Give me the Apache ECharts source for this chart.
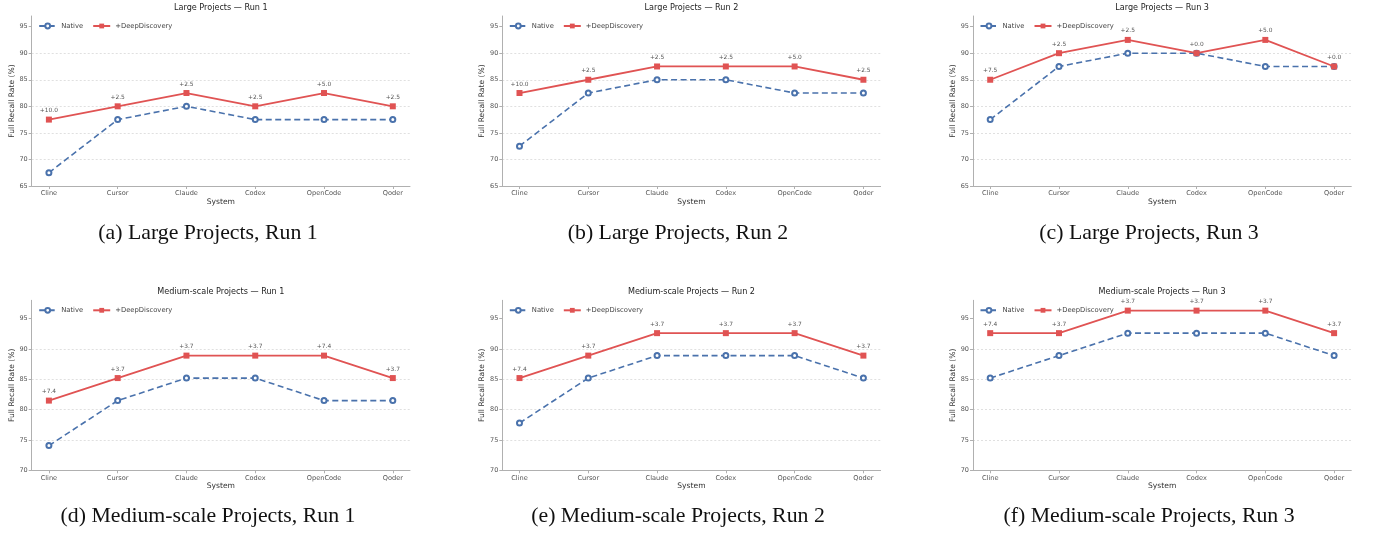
<!DOCTYPE html>
<html>
<head>
<meta charset="utf-8">
<script src="https://cdn.jsdelivr.net/npm/echarts@6/dist/echarts.min.js"></script>
<style>
html,body{margin:0;padding:0;background:#fff;}
#chart{width:1374px;height:536px;}
</style>
</head>
<body>
<div id="chart"></div>
<script>
const categories = ['Cline', 'Cursor', 'Claude', 'Codex', 'OpenCode', 'Qoder'];

const largeNativeRun1 = [67.5, 77.5, 80.0, 77.5, 77.5, 77.5];
const largeDDRun1     = [77.5, 80.0, 82.5, 80.0, 82.5, 80.0];
const largeNativeRun2 = [72.5, 82.5, 85.0, 85.0, 82.5, 82.5];
const largeDDRun2     = [82.5, 85.0, 87.5, 87.5, 87.5, 85.0];
const largeNativeRun3 = [77.5, 87.5, 90.0, 90.0, 87.5, 87.5];
const largeDDRun3     = [85.0, 90.0, 92.5, 90.0, 92.5, 87.5];

const mediumNativeRun1 = [74.07, 81.48, 85.19, 85.19, 81.48, 81.48];
const mediumDDRun1     = [81.48, 85.19, 88.89, 88.89, 88.89, 85.19];
const mediumNativeRun2 = [77.78, 85.19, 88.89, 88.89, 88.89, 85.19];
const mediumDDRun2     = [85.19, 88.89, 92.59, 92.59, 92.59, 88.89];
const mediumNativeRun3 = [85.19, 88.89, 92.59, 92.59, 92.59, 88.89];
const mediumDDRun3     = [92.59, 92.59, 96.30, 96.30, 96.30, 92.59];

const panelTitles = [
  'Large Projects — Run 1', 'Large Projects — Run 2', 'Large Projects — Run 3',
  'Medium-scale Projects — Run 1', 'Medium-scale Projects — Run 2', 'Medium-scale Projects — Run 3'
];
const captions = [
  '(a) Large Projects, Run 1', '(b) Large Projects, Run 2', '(c) Large Projects, Run 3',
  '(d) Medium-scale Projects, Run 1', '(e) Medium-scale Projects, Run 2', '(f) Medium-scale Projects, Run 3'
];
const largeYRange = [65, 97];
const mediumYRange = [70, 98];
const seriesNames = ['Native', '+DeepDiscovery'];

const nativeSets = [largeNativeRun1, largeNativeRun2, largeNativeRun3, mediumNativeRun1, mediumNativeRun2, mediumNativeRun3];
const ddSets = [largeDDRun1, largeDDRun2, largeDDRun3, mediumDDRun1, mediumDDRun2, mediumDDRun3];

const BLUE = '#4A72AC';
const RED = '#E05353';
const FONT = '"DejaVu Sans", sans-serif';

const colLeft = [31.7, 502.3, 973];
const plotW = 378.3;
const rowTop = [16, 300.3];
const plotH = 170;
const titleY = [7.5, 292];
const captionX = [208, 678, 1149];
const captionY = [233, 516];

const grids = [], xAxes = [], yAxes = [], series = [], legends = [], graphics = [];
const idx = categories.map((c, i) => i);

for (let p = 0; p < 6; p++) {
  const r = Math.floor(p / 3), c = p % 3;
  const yr = r === 0 ? largeYRange : mediumYRange;
  const native = nativeSets[p], dd = ddSets[p];
  grids.push({ left: colLeft[c], top: rowTop[r], width: plotW, height: plotH, containLabel: false });
  xAxes.push({
    type: 'value', gridIndex: p, min: -0.25, max: 5.25,
    name: 'System', nameLocation: 'middle', nameGap: 12,
    nameTextStyle: { fontSize: 7.6, color: '#333', fontFamily: FONT },
    axisLine: { show: true, onZero: false, lineStyle: { color: '#b0b0b0', width: 1 } },
    axisTick: { show: true, customValues: idx, length: 3, lineStyle: { color: '#b0b0b0' } },
    axisLabel: { customValues: idx, formatter: v => categories[Math.round(v)], fontSize: 6.6, color: '#555', margin: 4, fontFamily: FONT },
    splitLine: { show: false }
  });
  const yTicks = [];
  for (let v = yr[0]; v <= yr[1]; v += 5) yTicks.push(v);
  yAxes.push({
    type: 'value', gridIndex: p, min: yr[0], max: yr[1], interval: 5,
    name: 'Full Recall Rate (%)', nameLocation: 'middle', nameGap: 16,
    nameTextStyle: { fontSize: 7.6, color: '#333', fontFamily: FONT },
    axisLine: { show: true, onZero: false, lineStyle: { color: '#b0b0b0', width: 1 } },
    axisTick: { show: true, customValues: yTicks, length: 3, lineStyle: { color: '#b0b0b0' } },
    axisLabel: { customValues: yTicks, fontSize: 6.5, color: '#555', margin: 4, fontFamily: FONT },
    splitLine: { show: true, showMaxLine: false, showMinLine: false, lineStyle: { color: '#d8d8d8', width: 0.8, type: [2, 2] } }
  });
  series.push({
    type: 'line', name: seriesNames[0], xAxisIndex: p, yAxisIndex: p,
    data: native.map((v, j) => [j, v]),
    symbol: 'emptyCircle', symbolSize: 5,
    itemStyle: { color: BLUE, borderWidth: 1.1 },
    lineStyle: { color: BLUE, width: 1.6, type: [6, 3.5] },
    z: 2
  });
  series.push({
    type: 'line', name: seriesNames[1], xAxisIndex: p, yAxisIndex: p,
    data: dd.map((v, j) => [j, v]),
    symbol: 'rect', symbolSize: 6,
    itemStyle: { color: RED },
    lineStyle: { color: RED, width: 1.8 },
    label: {
      show: true, position: 'top', distance: 3, fontSize: 5.9, color: '#555', fontFamily: FONT,
      formatter: prm => '+' + (dd[prm.dataIndex] - native[prm.dataIndex]).toFixed(1)
    },
    z: 3
  });
  legends.push({
    data: seriesNames, left: colLeft[c] + 6.5, top: rowTop[r] + 6.5, padding: 0,
    itemWidth: 17, itemHeight: 6, itemGap: 9, orient: 'horizontal',
    textStyle: { fontSize: 6.8, color: '#444', fontFamily: FONT, padding: [0, 0, 0, 0] },
    selectedMode: false
  });
  graphics.push({
    type: 'text', x: colLeft[c] + plotW / 2, y: titleY[r],
    style: { text: panelTitles[p], fontSize: 8.1, fill: '#222', fontFamily: FONT, textAlign: 'center', textVerticalAlign: 'middle' }
  });
  graphics.push({
    type: 'text', x: captionX[c], y: captionY[r],
    style: { text: captions[p], fontSize: 21.8, fill: '#111', fontFamily: '"Liberation Serif", "Times New Roman", serif', textAlign: 'center', textVerticalAlign: 'middle' }
  });
}

const chart = echarts.init(document.getElementById('chart'), null, { renderer: 'canvas' });
chart.setOption({
  animation: false,
  backgroundColor: '#fff',
  textStyle: { fontFamily: FONT },
  grid: grids, xAxis: xAxes, yAxis: yAxes, series: series, legend: legends,
  graphic: graphics
});
</script>
</body>
</html>
